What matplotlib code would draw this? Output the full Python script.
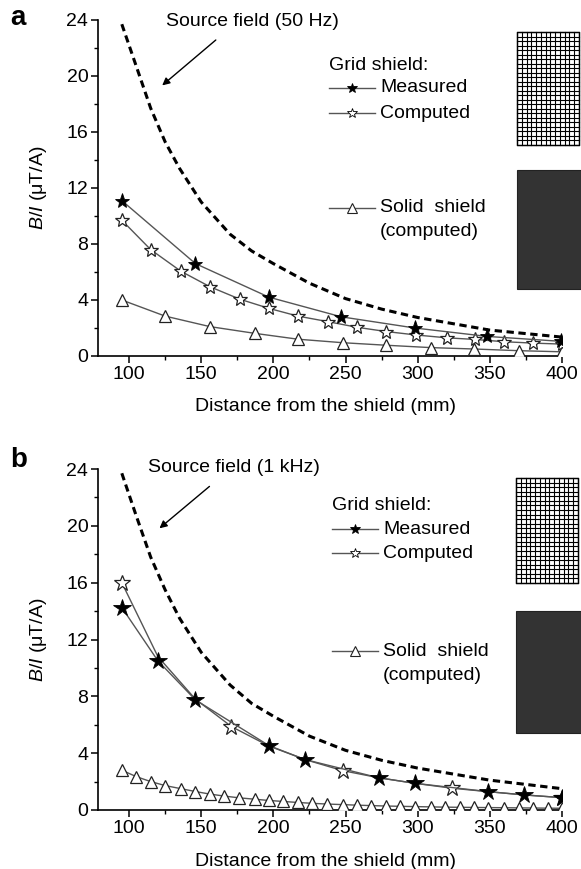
import numpy as np
import matplotlib
matplotlib.use("Agg")
import matplotlib.pyplot as plt
from matplotlib.lines import Line2D
from matplotlib.patches import Rectangle

plt.rcParams['font.family'] = ['Liberation Sans', 'DejaVu Sans']
plt.rcParams['mathtext.fontset'] = 'custom'
plt.rcParams['mathtext.it'] = 'Liberation Sans:italic'
plt.rcParams['mathtext.rm'] = 'Liberation Sans'

# ---------------- data: panel a (50 Hz) ----------------
a_src_x = [95, 105, 115, 125, 135, 150, 170, 185, 200, 225, 250, 275, 300, 350, 400]
a_src_y = [23.7, 20.7, 17.7, 15.3, 13.4, 11.0, 8.7, 7.5, 6.6, 5.2, 4.1, 3.35, 2.75, 1.85, 1.35]
a_meas_x = [95, 146, 197, 247, 298, 348, 399]
a_meas_y = [11.1, 6.6, 4.2, 2.8, 2.0, 1.4, 1.05]
a_comp_x = [95, 115, 136, 156, 177, 197, 217, 238, 258, 278, 299, 320, 340, 360, 380, 400]
a_comp_y = [9.7, 7.6, 6.05, 4.95, 4.05, 3.4, 2.85, 2.45, 2.05, 1.75, 1.5, 1.3, 1.18, 1.02, 0.92, 0.85]
a_solid_x = [95, 125, 156, 187, 217, 248, 278, 309, 339, 370, 400]
a_solid_y = [4.0, 2.85, 2.1, 1.62, 1.2, 0.95, 0.77, 0.6, 0.5, 0.38, 0.3]

# ---------------- data: panel b (1 kHz) ----------------
b_src_x = [95, 105, 115, 125, 135, 150, 170, 185, 200, 225, 250, 275, 300, 350, 400]
b_src_y = [23.7, 20.7, 17.8, 15.5, 13.5, 11.1, 8.8, 7.5, 6.6, 5.2, 4.2, 3.5, 2.95, 2.1, 1.5]
b_meas_x = [95, 120, 146, 197, 222, 273, 298, 349, 374, 400]
b_meas_y = [14.25, 10.5, 7.75, 4.53, 3.55, 2.27, 1.88, 1.29, 1.06, 0.87]
b_comp_x = [95, 120, 146, 171, 197, 222, 248, 273, 298, 324, 349, 374, 400]
b_comp_y = [16.0, 10.8, 7.8, 5.87, 4.5, 3.55, 2.77, 2.27, 1.88, 1.53, 1.29, 1.06, 0.87]
b_solid_x = [95, 105, 115, 125, 136, 146, 156, 166, 176, 187, 197, 207, 217, 227, 237,
             248, 258, 268, 278, 288, 298, 309, 319, 329, 339, 349, 360, 370, 380, 390, 400]
b_solid_y = [2.8, 2.35, 2.0, 1.72, 1.5, 1.3, 1.12, 0.98, 0.86, 0.76, 0.67, 0.6, 0.53, 0.47,
             0.42, 0.38, 0.34, 0.31, 0.28, 0.26, 0.24, 0.22, 0.2, 0.19, 0.18, 0.17, 0.16,
             0.15, 0.14, 0.13, 0.12]

yticks = [0, 4, 8, 12, 16, 20, 24]
xticks = [100, 150, 200, 250, 300, 350, 400]

W, H = 581, 869
fig = plt.figure(figsize=(W / 100, H / 100), dpi=100)

def px_axes(l, r, t, b):
    return fig.add_axes([l / W, 1 - b / H, (r - l) / W, (b - t) / H])

LC = '#555555'

def setup(ax):
    ax.set_xlim(78.5, 400)
    ax.set_ylim(0, 24)
    ax.set_xticks(xticks)
    ax.set_yticks(yticks)
    ax.set_xticks([125, 175, 225, 275, 325, 375], minor=True)
    ax.set_yticks([2, 6, 10, 14, 18, 22], minor=True)
    for s in ['top', 'right']:
        ax.spines[s].set_visible(False)
    for s in ['left', 'bottom']:
        ax.spines[s].set_linewidth(1.2)
    ax.tick_params(which='major', direction='out', length=5, width=1.1, labelsize=14, pad=2)
    ax.tick_params(which='minor', direction='out', length=3, width=1.0)
    ax.set_ylabel(r'$B/I$ (μT/A)', fontsize=14)
    ax.yaxis.set_label_coords(-0.105, 0.5)
    ax.set_xlabel('Distance from the shield (mm)', fontsize=14)
    ax.xaxis.set_label_coords(0.49, -0.125)

def panel(ax, src_x, src_y, meas_x, meas_y, comp_x, comp_y, solid_x, solid_y,
          ms_star, comp_every):
    ax.plot(src_x, src_y, color='black', lw=2.2, ls=(0, (2.4, 1.5)), zorder=2)
    ax.plot(solid_x, solid_y, color=LC, lw=1.0, marker='^', ms=9, mfc='white',
            mec='#222222', mew=0.9, zorder=3)
    ax.plot(comp_x, comp_y, color=LC, lw=1.0, marker='*', ms=ms_star, mfc='white',
            mec='#222222', mew=0.9, markevery=comp_every, zorder=4)
    ax.plot(meas_x, meas_y, color=LC, lw=1.0, marker='*', ms=ms_star + 1, mfc='black',
            mec='black', mew=0.6, zorder=5)

ax1 = px_axes(98, 562, 20, 356)
setup(ax1)
panel(ax1, a_src_x, a_src_y, a_meas_x, a_meas_y, a_comp_x, a_comp_y, a_solid_x, a_solid_y,
      10, 1)
ax1.annotate('', xy=(121.5, 19.2), xytext=(161.6, 22.7),
             arrowprops=dict(arrowstyle='-|>', color='black', lw=1.0, mutation_scale=11))

ax2 = px_axes(98, 562, 469, 810)
setup(ax2)
panel(ax2, b_src_x, b_src_y, b_meas_x, b_meas_y, b_comp_x, b_comp_y, b_solid_x, b_solid_y,
      12, 3)
ax2.annotate('', xy=(119.6, 19.7), xytext=(157.2, 22.9),
             arrowprops=dict(arrowstyle='-|>', color='black', lw=1.0, mutation_scale=11))

# overlay in pixel coords for labels, legends and icons
ov = fig.add_axes([0, 0, 1, 1], zorder=10)
ov.set_xlim(0, W)
ov.set_ylim(H, 0)
ov.axis('off')
ov.patch.set_alpha(0)

def txt(x, y, s, size=14, **kw):
    ov.text(x, y, s, va='center', ha='left', fontsize=size, **kw)

txt(10, 18, 'a', size=20, fontweight='bold')
txt(10, 460, 'b', size=20, fontweight='bold')
txt(166, 21, 'Source field (50 Hz)')
txt(148, 468, 'Source field (1 kHz)')

def legend(x0, y_title, y_meas, y_comp, y_solid, y_solid2):
    txt(x0, y_title, 'Grid shield:')
    xm = x0 + 23
    xt = x0 + 51
    for yy, fc in [(y_meas, 'black'), (y_comp, 'white')]:
        ov.add_line(Line2D([x0, x0 + 46], [yy, yy], color=LC, lw=1.0))
        ov.add_line(Line2D([xm], [yy], marker='*', ms=7, mfc=fc, mec='black', mew=0.6))
    txt(xt, y_meas, 'Measured')
    txt(xt, y_comp, 'Computed')
    ov.add_line(Line2D([x0, x0 + 46], [y_solid, y_solid], color=LC, lw=1.0))
    ov.add_line(Line2D([xm], [y_solid], marker='^', ms=7, mfc='white', mec='#222222', mew=0.8))
    txt(xt, y_solid, 'Solid  shield')
    txt(xt, y_solid2, '(computed)')

legend(329, 65, 88, 113, 208, 232)
legend(332, 505, 529, 553, 651, 675)

def grid_icon(l, r, t, b, nx=14, ny=25):
    ov.add_patch(Rectangle((l, t), r - l, b - t, fc='white', ec='black', lw=1.0))
    for xx in np.linspace(l, r, nx + 1):
        ov.add_line(Line2D([xx, xx], [t, b], color='black', lw=0.8))
    for yy in np.linspace(t, b, ny + 1):
        ov.add_line(Line2D([l, r], [yy, yy], color='black', lw=0.8))

grid_icon(517, 579, 32, 145, 13, 25)
grid_icon(516, 578, 478, 583, 13, 23)
ov.add_patch(Rectangle((517, 170), 70, 119, fc='#333333', ec='#222222', lw=0.8))
ov.add_patch(Rectangle((516, 611), 70, 122, fc='#333333', ec='#222222', lw=0.8))

fig.savefig('out.png', dpi=100)
